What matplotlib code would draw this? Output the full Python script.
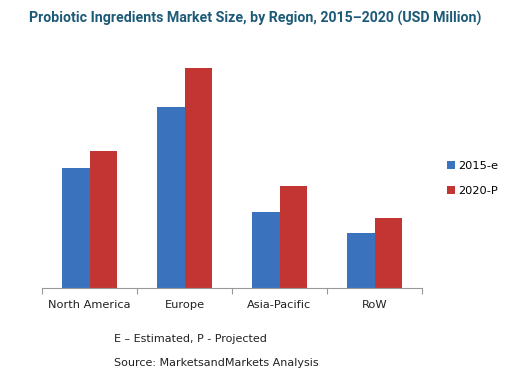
import matplotlib.pyplot as plt
import numpy as np

regions = ["North America", "Europe", "Asia-Pacific", "RoW"]
series_names = ["2015-e", "2020-P"]
values_2015 = [120, 181, 76, 55]
values_2020 = [137, 220, 102, 70]

plt.rcParams['font.family'] = ['DejaVu Sans']

fig = plt.figure(figsize=(5.1, 3.75), dpi=100)
ax = fig.add_axes([42 / 510, 1 - 288 / 375, 380 / 510, 233 / 375])

x = np.arange(len(regions))
w = 0.29
ax.bar(x - w / 2, values_2015, w, color='#3b72bd', label=series_names[0])
ax.bar(x + w / 2, values_2020, w, color='#c33532', label=series_names[1])

ax.set_xlim(-0.5, len(regions) - 0.5)
ax.set_ylim(0, 233)
for s in ['top', 'right', 'left']:
    ax.spines[s].set_visible(False)
ax.spines['bottom'].set_color('#999999')
ax.set_yticks([])
ax.set_xticks(np.arange(len(regions) + 1) - 0.5)
ax.set_xticklabels([])
ax.tick_params(axis='x', length=4, color='#999999', direction='out')
ax.set_xticks(x, minor=True)
ax.set_xticklabels(regions, minor=True, fontsize=8.2, color='#222222')
ax.tick_params(axis='x', which='minor', length=0, pad=9)

ax.legend(loc='center left', bbox_to_anchor=(395 / 380, 0.47), frameon=False,
          fontsize=8.2, handlelength=0.7, handleheight=0.7, handletextpad=0.3,
          labelspacing=1.35)

fig.text(0.5, 1 - 18 / 375, "Probiotic Ingredients Market Size, by Region, 2015\u20132020 (USD Million)",
         ha='center', va='center', fontsize=10.2, fontweight='bold', color='#1d5a78',
         family=['Roboto', 'DejaVu Sans'])
fig.text(114 / 510, 1 - 339 / 375, "E \u2013 Estimated, P - Projected", ha='left', va='center',
         fontsize=8, color='#222222')
fig.text(114 / 510, 1 - 363 / 375, "Source: MarketsandMarkets Analysis", ha='left', va='center',
         fontsize=8, color='#222222')

fig.savefig('out.png', dpi=100)
